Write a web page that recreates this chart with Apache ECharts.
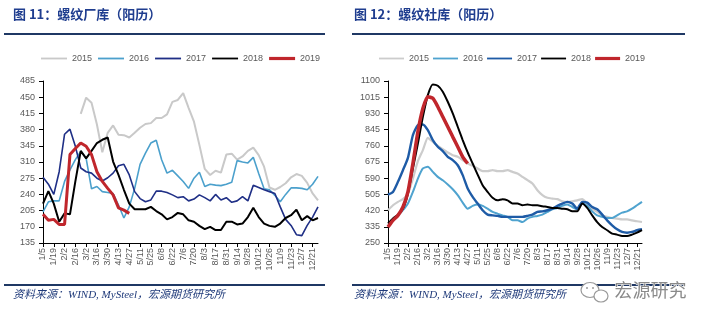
<!DOCTYPE html>
<html>
<head>
<meta charset="utf-8">
<script src="https://cdn.jsdelivr.net/npm/echarts@6/dist/echarts.min.js"></script>
<style>
  html, body { margin: 0; padding: 0; background: #fff; }
  #left, #right { position: absolute; top: 0; width: 352px; height: 323px; }
  #left { left: 0; }
  #right { left: 352px; }
</style>
</head>
<body>
<div id="left"></div>
<div id="right"></div>
<script>
// Weekly observation dates (calendar year)
const weeks = ['1/5','1/12','1/19','1/26','2/2','2/9','2/16','2/23','3/2','3/9','3/16','3/23','3/30','4/6','4/13','4/20','4/27','5/4','5/11','5/18','5/25','6/1','6/8','6/15','6/22','6/29','7/6','7/13','7/20','7/27','8/3','8/10','8/17','8/24','8/31','9/7','9/14','9/21','9/28','10/5','10/12','10/19','10/26','11/2','11/9','11/16','11/23','11/30','12/7','12/14','12/21','12/28'];
const years = ['2015','2016','2017','2018','2019'];

// 螺纹厂库 (万吨)
const mill2015 = [null,null,null,null,null,null,null,414,449,438,391,331,373,389,369,368,363,373,384,392,394,405,405,413,440,444,459,427,397,347,295,282,291,287,326,328,315,322,334,341,325,300,255,250,256,264,277,284,280,265,242,227];
const mill2016 = [202,224,226,226,268,293,315,333,318,252,257,246,244,242,217,189,213,253,305,329,351,357,315,286,292,280,268,253,275,288,257,262,260,259,262,266,313,310,308,320,285,252,250,238,224,240,254,254,253,250,262,279];
const mill2017 = [277,262,240,289,370,381,344,297,289,286,275,269,276,286,302,305,282,246,231,224,228,247,247,244,239,233,235,226,230,239,233,226,240,228,233,223,226,235,226,260,255,250,246,242,213,186,173,153,151,173,191,213];
const mill2018 = [220,247,220,181,199,197,268,334,318,334,351,358,363,311,282,250,220,208,208,208,213,204,197,186,191,200,197,184,181,172,165,170,163,163,181,181,175,177,191,211,191,177,172,170,177,189,195,207,184,193,184,189];
const mill2019 = [197,184,186,175,175,326,339,351,344,326,289,268,253,239,211,206,199];
const millTicks = [135,170,205,240,275,310,345,380,415,450,485];

// 螺纹社库 (万吨)
const social2015 = [422,448,466,480,509,588,679,737,802,781,760,742,725,711,702,685,667,655,641,627,627,632,627,627,632,623,615,597,580,562,527,501,487,483,480,469,466,469,474,480,457,430,413,395,387,381,378,374,374,369,364,360];
const social2016 = [339,374,395,422,457,518,588,641,650,623,597,579,557,532,501,462,430,445,452,445,430,413,404,395,387,369,369,360,378,387,392,399,413,427,434,445,452,439,427,457,445,416,395,387,381,381,395,409,416,430,448,466];
const social2017 = [504,518,571,632,697,816,869,872,842,790,755,732,702,685,658,606,536,492,457,422,399,395,392,387,387,387,387,387,392,399,413,416,422,430,445,457,466,457,430,466,462,439,427,399,369,343,322,308,304,308,317,322];
const social2018 = [352,378,399,430,509,641,772,912,1026,1082,1075,1044,991,930,860,790,725,667,609,553,518,487,474,480,474,457,457,448,452,448,448,443,439,434,434,430,427,416,416,457,434,395,360,334,317,299,294,287,287,294,304,317];
const social2019 = [334,369,395,439,518,667,834,956,1018,1009,965,912,860,807,755,702,667];
const socialTicks = [250,335,420,505,590,675,760,845,930,1015,1100];

const AXIS_FONT = '"Liberation Sans", "Noto Sans", sans-serif';
const CJK_FONT = '"Noto Sans CJK SC", sans-serif';
const NAVY = '#1F3864';

// Flat bar icons for the legend; the aspect ratio sets the stroke thickness
function barIcon(w, h) {
  return 'path://M0,0H' + w + 'V' + h + 'H0Z';
}

function buildOption(cfg) {
  const series = cfg.values.map((vals, k) => ({
    name: years[k],
    type: 'line',
    data: vals,
    symbol: 'none',
    smooth: cfg.smooth,
    connectNulls: false,
    lineStyle: { color: cfg.colors[k], width: cfg.widths[k] },
    itemStyle: { color: cfg.colors[k] },
    z: 2 + k,
    animation: false
  }));

  const legendData = years.map((y, k) => ({
    name: y,
    icon: barIcon(cfg.legendItemWidth, k === 4 ? 3.2 : 1.8),
    itemStyle: { color: cfg.colors[k] }
  }));

  const graphics = [
    { type: 'text', left: cfg.titleX, top: 8,
      style: { text: cfg.title, fontFamily: CJK_FONT, fontWeight: 'bold', fontSize: 13, fill: '#1F3D8F' } },
    { type: 'line', shape: { x1: cfg.ruleX1, y1: 34, x2: cfg.ruleX2, y2: 34 },
      style: { stroke: NAVY, lineWidth: 2 } },
    { type: 'line', shape: { x1: cfg.ruleX1, y1: 285, x2: cfg.ruleX2, y2: 285 },
      style: { stroke: NAVY, lineWidth: 2 } },
    { type: 'text', left: cfg.titleX, top: 290,
      style: { text: '资料来源：WIND, MySteel，宏源期货研究所', fontFamily: '"Liberation Serif", "Noto Sans CJK SC", serif',
               fontStyle: 'italic', fontSize: 11, fill: '#1F3A7A' } }
  ].concat(cfg.extraGraphics || []);

  return {
    animation: false,
    backgroundColor: '#fff',
    legend: {
      data: legendData,
      left: cfg.legendLeft,
      top: 49,
      itemWidth: cfg.legendItemWidth,
      itemHeight: 10,
      itemGap: cfg.legendGap,
      textStyle: { fontFamily: AXIS_FONT, fontSize: 9, color: '#595959' }
    },
    grid: { left: cfg.gridLeft, right: cfg.gridRight, top: 81, bottom: 80, containLabel: false },
    xAxis: {
      type: 'category',
      data: weeks,
      boundaryGap: false,
      axisLine: { show: true, lineStyle: { color: '#000', width: 1 } },
      axisTick: { show: true, interval: 1, length: 4, lineStyle: { color: '#000' } },
      axisLabel: { interval: 1, rotate: 90, margin: 5, fontFamily: AXIS_FONT, fontSize: 9, color: '#595959' },
      splitLine: { show: false }
    },
    yAxis: {
      type: 'value',
      min: cfg.ticks[0],
      max: cfg.ticks[cfg.ticks.length - 1],
      axisLine: { show: true, lineStyle: { color: '#000', width: 1 } },
      axisTick: { show: true, length: 4, customValues: cfg.ticks, lineStyle: { color: '#000' } },
      axisLabel: { customValues: cfg.ticks, formatter: v => String(v), margin: 8,
                   fontFamily: AXIS_FONT, fontSize: 9, color: '#595959' },
      splitLine: { show: false }
    },
    graphic: graphics,
    series: series
  };
}

const leftChart = echarts.init(document.getElementById('left'), null, { renderer: 'canvas' });
leftChart.setOption(buildOption({
  title: '图 11：螺纹厂库（阳历）',
  titleX: 13, ruleX1: 4, ruleX2: 325,
  values: [mill2015, mill2016, mill2017, mill2018, mill2019],
  colors: ['#C9C9C9', '#4BA0CC', '#1F2F86', '#000000', '#C0262C'],
  widths: [2, 1.6, 1.6, 2, 3],
  smooth: false,
  ticks: millTicks,
  gridLeft: 43, gridRight: 34,
  legendLeft: 36, legendItemWidth: 26, legendGap: 6
}));

// WeChat-style badge with the 宏源研究 name, lower right
const badge = [
  { type: 'ellipse', shape: { cx: 238, cy: 290, rx: 9, ry: 7.5 }, z: 20,
    style: { fill: '#fff', stroke: '#9a9a9a', lineWidth: 1.2 } },
  { type: 'ellipse', shape: { cx: 249, cy: 296, rx: 7, ry: 6 }, z: 21,
    style: { fill: '#fff', stroke: '#9a9a9a', lineWidth: 1.2 } },
  { type: 'circle', shape: { cx: 235, cy: 288, r: 1 }, z: 22, style: { fill: '#9a9a9a' } },
  { type: 'circle', shape: { cx: 241, cy: 288, r: 1 }, z: 22, style: { fill: '#9a9a9a' } },
  { type: 'text', left: 262, top: 281, z: 20,
    style: { text: '宏源研究', fontFamily: CJK_FONT, fontSize: 18, fill: '#8a8a8a',
             stroke: '#ffffff', lineWidth: 1 } }
];

const rightChart = echarts.init(document.getElementById('right'), null, { renderer: 'canvas' });
rightChart.setOption(buildOption({
  title: '图 12：螺纹社库（阳历）',
  titleX: 2, ruleX1: 0, ruleX2: 333,
  values: [social2015, social2016, social2017, social2018, social2019],
  colors: ['#CCCCCC', '#4FA3CF', '#1E5BA6', '#000000', '#C0262C'],
  widths: [2.2, 2, 2.4, 2, 3.5],
  smooth: 0.2,
  ticks: socialTicks,
  gridLeft: 36, gridRight: 62,
  legendLeft: 22, legendItemWidth: 25, legendGap: 4,
  extraGraphics: badge
}));
</script>
</body>
</html>
